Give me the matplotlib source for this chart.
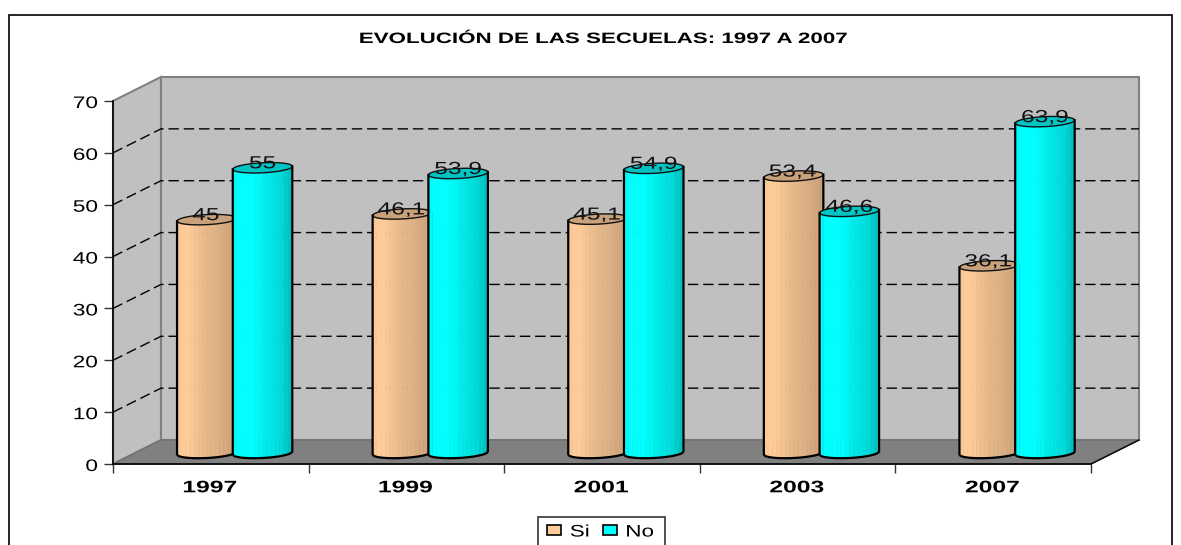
import numpy as np
import matplotlib
matplotlib.use("Agg")
import matplotlib.pyplot as plt
from matplotlib.patches import Patch, Rectangle
from matplotlib.patheffects import AbstractPathEffect
from matplotlib.transforms import Affine2D

title = "EVOLUCIÓN DE LAS SECUELAS: 1997 A 2007"
years = ["1997", "1999", "2001", "2003", "2007"]
si_values = [45, 46.1, 45.1, 53.4, 36.1]
no_values = [55, 53.9, 54.9, 46.6, 63.9]
y_ticks = [0, 10, 20, 30, 40, 50, 60, 70]

W, H = 1181, 545
plt.rcParams['font.family'] = ['Liberation Sans', 'DejaVu Sans']
fig = plt.figure(figsize=(W / 100, H / 100), dpi=100)
fig.patch.set_facecolor('white')


class Stretch(AbstractPathEffect):
    """Widen text horizontally about an anchor (the reference was stretched)."""
    def __init__(self, sx, anchor='center', dy=0):
        super().__init__()
        self.sx, self.anchor, self.dy = sx, anchor, dy

    def draw_path(self, renderer, gc, tpath, affine, rgbFace=None):
        e = tpath.get_extents()
        a = {'left': e.x0, 'center': (e.x0 + e.x1) / 2, 'right': e.x1}[self.anchor]
        t = (Affine2D().translate(-a, 0).scale(self.sx, 1).translate(a, 0) + affine
             + Affine2D().translate(0, self.dy))
        renderer.draw_path(gc, tpath, t, rgbFace)


L, R, T, B = 113, 1091, 101, 464
ax = fig.add_axes([L / W, 1 - B / H, (R - L) / W, (B - T) / H])
ax.set_xlim(0, 5)
ax.set_ylim(0, 70)
ax.patch.set_visible(False)
PX = 5 / (R - L)
PY = 70 / (B - T)
DX, DY = 48 * PX, 24 * PY

# Walls and floor
wall = '#C0C0C0'
edge = '#808080'
ax.fill([0, DX, DX, 0], [0, DY, 70 + DY, 70], fc=wall, ec=edge, lw=1.5, clip_on=False, zorder=1)
ax.fill([DX, 5 + DX, 5 + DX, DX], [DY, DY, 70 + DY, 70 + DY], fc=wall, ec=edge, lw=1.5, clip_on=False, zorder=1)
ax.fill([0, 5, 5 + DX, DX], [0, 0, DY, DY], fc='#808080', ec='#707070', lw=1, clip_on=False, zorder=2)
ax.plot([5, 5 + DX], [0, DY], color='black', lw=1, clip_on=False, zorder=2)

# Gridlines
for v in y_ticks[1:-1]:
    ax.plot([0, DX, 5 + DX], [v, v + DY, v + DY], color='black', lw=1,
            dashes=(7.5, 3.5), clip_on=False, zorder=3)

# Cylinder bars
RY = 5 * PY
Y0 = 11 * PY
TILT = 1.5 * PY
BW = 59.5 * PX
si_shades = [0.98, 1.0, 1.0, 0.98, 0.95, 0.93, 0.91, 0.89, 0.88, 0.87, 0.85, 0.83, 0.81, 0.79]
no_shades = [0.98, 1.0, 1.0, 1.0, 1.0, 0.98, 0.96, 0.93, 0.91, 0.89, 0.87, 0.85, 0.80, 0.76]


def shade(rgb, k):
    return tuple(c * k for c in rgb)


def cyl(xc, value, rgb, top, z, facets):
    rx = BW / 2
    n = len(facets)
    us = np.linspace(-1, 1, 60)

    def low(u, base):
        return base - RY * np.sqrt(np.clip(1 - u ** 2, 0, 1)) + TILT * u

    edges = np.linspace(-1, 1, n + 1)
    for i, k in enumerate(facets):
        u = np.linspace(edges[i], edges[i + 1], 8)
        xs = xc + rx * u
        ys = np.r_[low(u, Y0), low(u[::-1], Y0 + value)]
        ax.fill(np.r_[xs, xs[::-1]], ys, fc=shade(rgb, k), ec=shade(rgb, k), lw=0.3,
                clip_on=False, zorder=z)
    # top ellipse
    ut = np.r_[us, us[::-1]]
    yt = np.r_[low(us, Y0 + value),
               (Y0 + value) + RY * np.sqrt(np.clip(1 - us[::-1] ** 2, 0, 1)) + TILT * us[::-1]]
    ax.fill(xc + rx * ut, yt, fc=top, ec='#111111', lw=1.0, clip_on=False, zorder=z + 0.1)
    # outline
    ax.plot(np.r_[xc - rx, xc + rx * us, xc + rx],
            np.r_[Y0 + value - TILT, low(us, Y0), Y0 + value + TILT],
            color='black', lw=1.6, clip_on=False, zorder=z + 0.1)


def fmt(v):
    return f"{v:g}".replace('.', ',')


peach, peach_top = (1.0, 0.8, 0.6), '#C9A27C'
cyan, cyan_top = (0.0, 1.0, 1.0), '#00C4C4'
SI_C = 0.4795
NO_C = 0.7645
for i in range(len(years)):
    cyl(i + SI_C, si_values[i], peach, peach_top, 5 + i * 2, si_shades)
    cyl(i + NO_C, no_values[i], cyan, cyan_top, 6 + i * 2, no_shades)
for i in range(len(years)):
    for xc, val in ((i + SI_C - PX, si_values[i]), (i + NO_C, no_values[i])):
        t = ax.text(xc, val + Y0 + 5 * PY, fmt(val), ha='center', va='center',
                    fontsize=12.6, color='#111111', zorder=30, clip_on=False)
        t.set_path_effects([Stretch(1.4, dy=-1)])

# Axes
for s in ['top', 'right']:
    ax.spines[s].set_visible(False)
for s in ['left', 'bottom']:
    ax.spines[s].set_color('black')
    ax.spines[s].set_linewidth(1.2)
    ax.spines[s].set_zorder(4)
ax.set_yticks(y_ticks)
ax.set_yticklabels([str(v) for v in y_ticks], fontsize=12, color='black')
ax.tick_params(axis='y', length=6.5, width=1, color='#333333', pad=4.5)
for t in ax.get_yticklabels():
    t.set_path_effects([Stretch(1.36, 'right', dy=-1)])
ax.set_xticks(range(len(years) + 1))
ax.set_xticklabels([])
ax.tick_params(axis='x', which='major', length=6.5, width=1, color='#333333')
ax.set_xticks([i + 0.495 for i in range(len(years))], minor=True)
ax.set_xticklabels(years, minor=True, fontsize=12, fontweight='bold', color='black')
ax.tick_params(axis='x', which='minor', length=0, pad=11)
for t in ax.get_xticklabels(minor=True):
    t.set_path_effects([Stretch(1.48, dy=-1)])

# Title
tt = fig.text(603 / W, 1 - 37 / H, title, ha='center', va='center', fontsize=10.8, fontweight='bold',
              color='black')
tt.set_path_effects([Stretch(1.49, dy=-2)])

# Outer border
fig.add_artist(Rectangle((8.5 / W, -0.05), (1172 - 8.5) / W, 1.05 - 14.5 / H, transform=fig.transFigure,
                         fill=False, ec='black', lw=1.2))

# Legend
fig.add_artist(Rectangle((538 / W, -0.05), 127 / W, 0.05 + 1 - 517 / H, transform=fig.transFigure,
                         fc='white', ec='#333333', lw=1.2))
handles = [Patch(fc='#FFCC99', ec='black', lw=1.2, label='Si'),
           Patch(fc='#00FFFF', ec='black', lw=1.2, label='No')]
leg = fig.legend(handles=handles, ncol=2, loc='center left',
                 bbox_to_anchor=(547 / W, 1 - 531 / H), bbox_transform=fig.transFigure,
                 frameon=False, fontsize=12, handlelength=0.84, handleheight=0.55,
                 handletextpad=0.54, columnspacing=1.08, borderpad=0, borderaxespad=0)
for t in leg.get_texts():
    t.set_path_effects([Stretch(1.35, 'left', dy=-1)])

fig.savefig('out.png', dpi=100)
